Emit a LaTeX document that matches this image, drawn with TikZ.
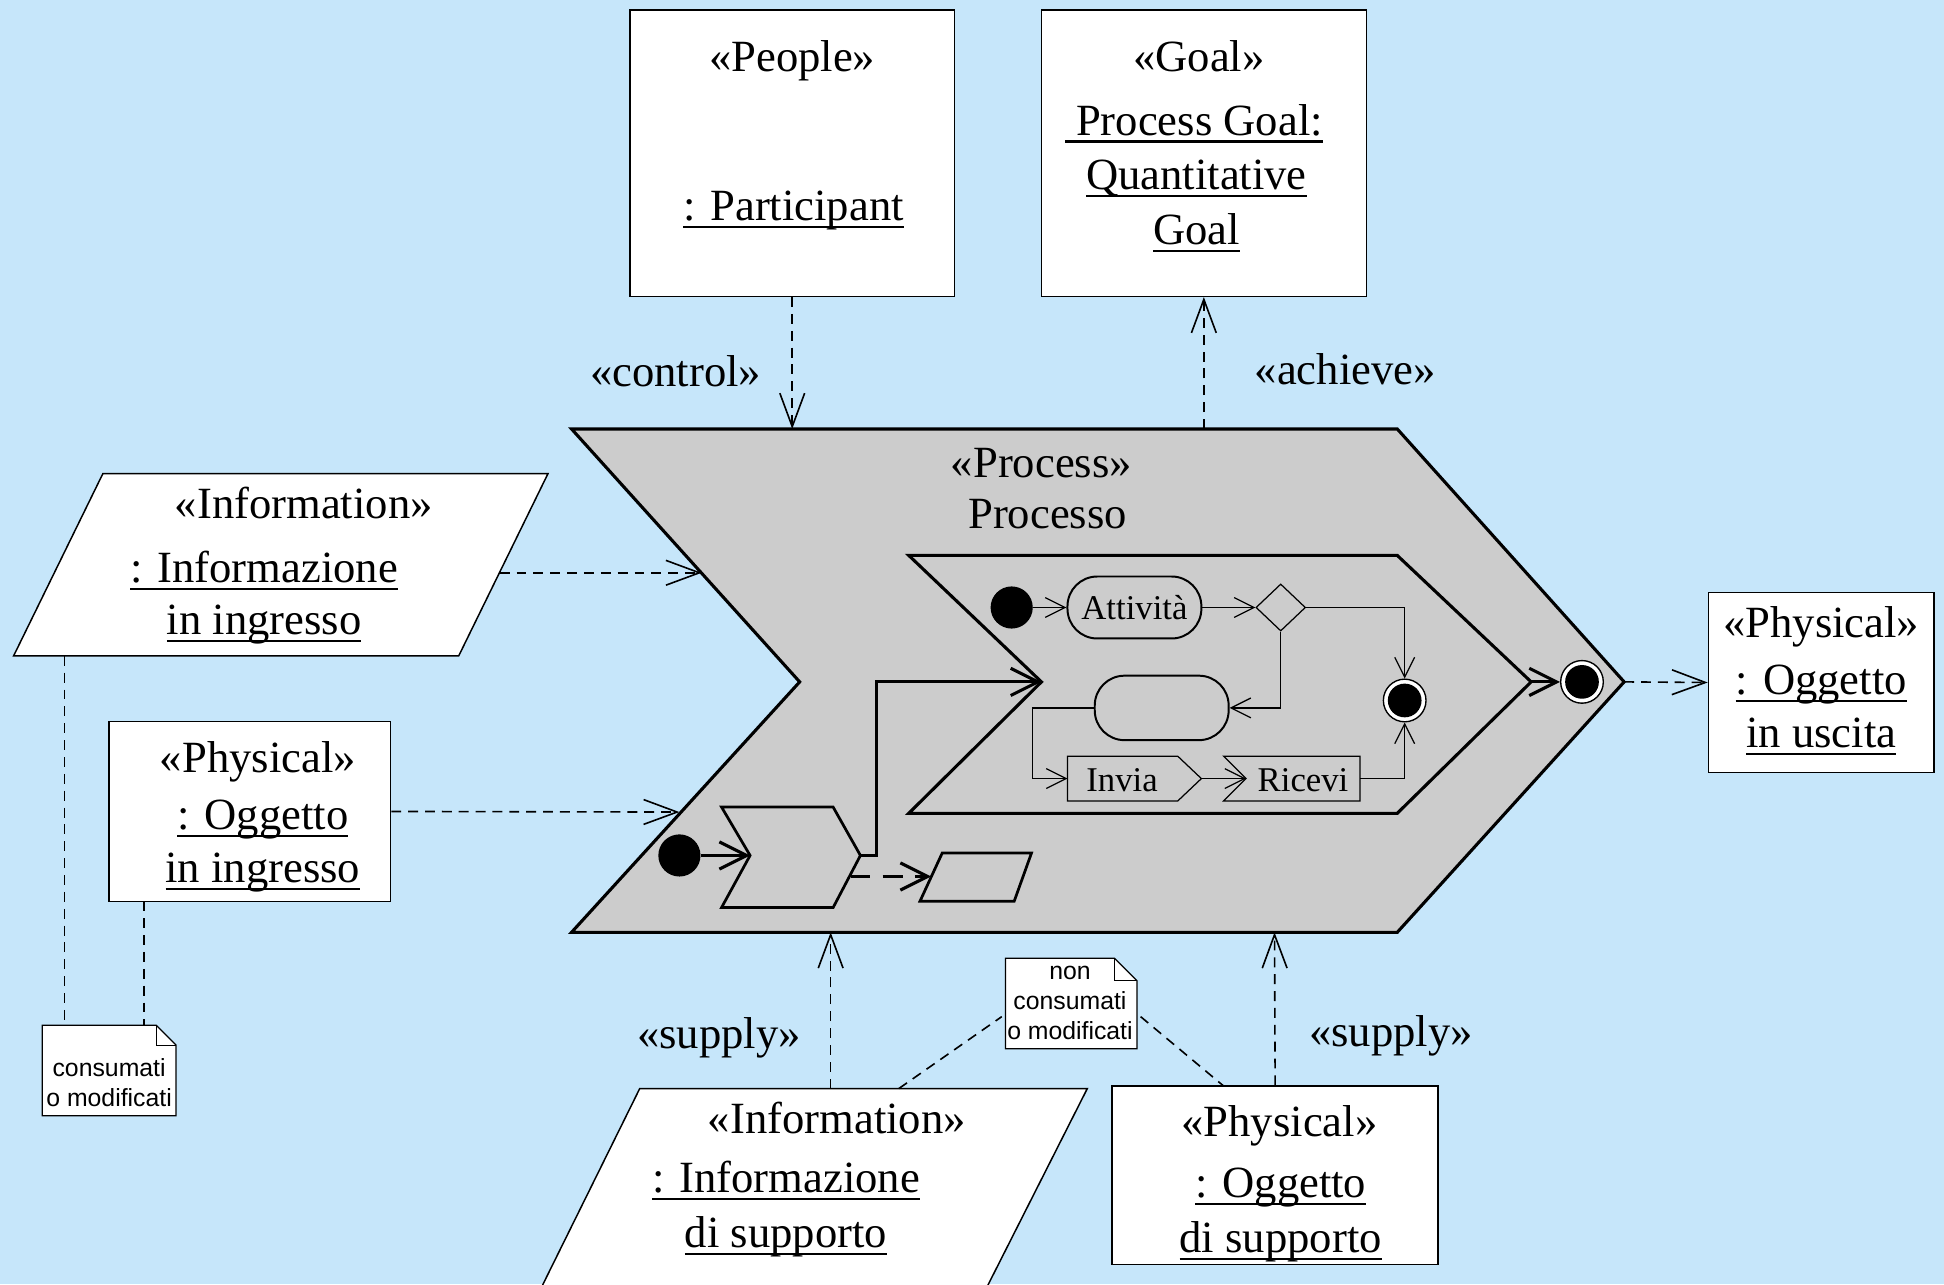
\documentclass[tikz,border=0pt]{standalone}
\usepackage{fontspec}
\setmainfont{Liberation Serif}
\newfontfamily\notefont{Liberation Sans}
\usetikzlibrary{arrows.meta,shapes.geometric}
\definecolor{bgblue}{RGB}{198,230,250}
\definecolor{procgray}{RGB}{204,204,204}
\newcommand\ul[1]{\leavevmode\setbox0=\hbox{#1}\rlap{\rule[-0.17em]{\wd0}{0.05em}}\box0}
\tikzset{
  objbox/.style={draw, fill=white, line width=0.6pt, inner sep=0pt},
  maintxt/.style={font=\fontsize{18}{22}\selectfont, inner sep=0pt, anchor=base},
  innertxt/.style={font=\fontsize{14}{16}\selectfont, inner sep=0pt},
  notetxt/.style={font=\notefont\fontsize{10}{12}\selectfont, align=center, inner sep=0pt},
  dep/.style={dash pattern=on 4pt off 2.8pt, line width=0.65pt, -{Straight Barb[length=13.5pt,width=10pt]}},
  noteline/.style={dash pattern=on 4pt off 2.8pt, line width=0.65pt},
  flow/.style={line width=0.5pt, -{Straight Barb[length=8pt,width=8pt]}},
  thickflow/.style={line width=1.25pt, -{Straight Barb[length=11pt,width=11pt]}},
  initnode/.style={circle, fill=black, minimum size=17pt, inner sep=0pt},
  finalnode/.style={circle, draw, fill=white, line width=0.55pt, minimum size=17.2pt, inner sep=0pt},
  stadium/.style={draw, line width=0.8pt, rounded corners=12pt, inner sep=0pt},
}
\begin{document}
\begin{tikzpicture}[x=0.5pt,y=-0.5pt]
\useasboundingbox (0,0) rectangle (1568,1036);
\clip (0,0) rectangle (1568,1036);
\fill[bgblue] (0,0) rectangle (1568,1036);

% ---------- process chevron ----------
\draw[line width=1.25pt, fill=procgray] (461,346) coordinate (pTL) -- (1127,346) coordinate (pTR)
  -- (1310,550) coordinate (pTip) -- (1127,752) coordinate (pBR) -- (461,752) coordinate (pBL)
  -- (645,550) coordinate (pNotch) -- cycle;
\coordinate (pCtrl) at (639,346);
\coordinate (pAch) at (971,346);
\coordinate (pIn1) at (566,462);
\coordinate (pIn2) at (548,655);
\coordinate (pSup1) at (670,752);
\coordinate (pSup2) at (1028,752);

\node[maintxt] (tProc) at (840,385) {«Process»};
\node[maintxt] (tProc2) at (845,426) {Processo};

% inner chevron
\draw[line width=1.25pt] (733,448) -- (1127,448) -- (1235,550) coordinate (iTip)
  -- (1127,656) -- (733,656) -- (840,550) coordinate (iNotch) -- cycle;

\node[initnode] (init1) at (816,490) {};
\node[stadium, minimum width=54pt, minimum height=25pt, font=\fontsize{14}{16}\selectfont] (att) at (915,490) {Attività};
\node[draw, diamond, line width=0.5pt, minimum width=20pt, minimum height=19pt, inner sep=0pt] (dec) at (1033,490) {};
\node[finalnode] (fin1) at (1133,565) {};
\fill (fin1.center) circle (6.8pt);
\node[stadium, minimum width=54pt, minimum height=26pt] (mid) at (937,571) {};
\draw[line width=0.5pt] (861,610) coordinate (invNW) -- (950,610) -- (969,628) coordinate (invE)
  -- (950,646) -- (861,646) -- cycle;
\coordinate (invW) at (861,628);
\node[innertxt] (tInvia) at (905,629) {Invia};
\draw[line width=0.5pt] (987,610) -- (1097,610) -- (1097,646) -- (987,646) -- (1005,628) coordinate (ricN) -- cycle;
\coordinate (ricE) at (1097,628);
\node[innertxt] (tRicevi) at (1051,629) {Ricevi};
\coordinate (bendL) at (833,600);

\draw[flow] (init1) -- (att);
\draw[flow] (att) -- (dec);
\draw[flow] (dec.east) -| (fin1.north);
\draw[flow] (dec.south) |- (mid.east);
\draw[flow] (mid.west) -| (bendL) |- (invW);
\draw[flow] (invE) -- (ricN);
\draw[flow] (ricE) -| (fin1.south);

% lower-left flow
\node[initnode] (init2) at (548,690) {};
\draw[line width=1.1pt] (582,651) -- (672,651) -- (694,690) coordinate (scTip) -- (672,732)
  -- (582,732) -- (605,690) coordinate (scNotch) -- cycle;
\coordinate (scOut) at (707,690);
\coordinate (scLow) at (686,707);
\draw[line width=1.1pt] (760,688) -- (832,688) -- (818,727) -- (742,727) -- cycle;
\coordinate (parL) at (751,707);
\draw[thickflow] (init2) -- (scNotch);
\draw[thickflow] (scTip) -- (scOut) |- (iNotch);
\draw[thickflow, dash pattern=on 8pt off 5pt] (scLow) -- (parL);

\node[finalnode] (fin2) at (1276,550) {};
\fill (fin2.center) circle (6.8pt);
\draw[thickflow] (iTip) -- (fin2.west);

% ---------- top boxes ----------
\node[objbox, minimum width=131pt, minimum height=115.5pt] (people) at (639,123.5) {};
\node[maintxt] (tPeople) at (639,58) {«People»};
\node[maintxt] (tPart) at (640,178) {\ul{: Participant}};
\node[objbox, minimum width=131pt, minimum height=115.5pt] (goal) at (971,123.5) {};
\node[maintxt] (tGoal) at (967,58) {«Goal»};
\node[maintxt] (tPG) at (963,109) {\ul{\ Process Goal:}};
\node[maintxt] (tQ) at (965,153) {\ul{Quantitative}};
\node[maintxt] (tG) at (965,197) {\ul{Goal}};

\draw[dep] (people.south) -- (pCtrl);
\draw[dep] (pAch) -- (goal.south);
\node[maintxt] (tCtrl) at (545,312) {«control»};
\node[maintxt] (tAch) at (1085,310) {«achieve»};

% ---------- left inputs ----------
\draw[objbox] (83,382) -- (442,382) -- (370,529) -- (11,529) -- cycle;
\coordinate (i1R) at (403,462);
\coordinate (i1B) at (52,529);
\node[maintxt] (tInf1a) at (245,418) {«Information»};
\node[maintxt] (tInf1b) at (213,470) {\ul{: Informazione}};
\node[maintxt] (tInf1c) at (213,512) {\ul{in ingresso}};
\draw[dep] (i1R) -- (pIn1);

\node[objbox, minimum width=113.5pt, minimum height=72.5pt] (physIn) at (201.5,654.5) {};
\node[maintxt] (tPh1a) at (208,623) {«Physical»};
\node[maintxt] (tPh1b) at (212,669) {\ul{: Oggetto}};
\node[maintxt] (tPh1c) at (212,712) {\ul{in ingresso}};
\coordinate (pinB) at (116,727);
\draw[dep] (physIn.east) -- (pIn2);

% note 1
\draw[line width=0.5pt, fill=white] (34,827) coordinate (n1TL) -- (126,827) -- (142,843) -- (142,900) -- (34,900) -- cycle;
\draw[line width=0.5pt] (126,827) -- (126,843) -- (142,843);
\node[notetxt] (note1) at (88,873) {consumati\\o modificati};
\draw[noteline] (i1B) -- (i1B |- n1TL);
\draw[noteline] (pinB) -- (pinB |- n1TL);

% ---------- output ----------
\node[objbox, minimum width=91pt, minimum height=72.5pt] (physOut) at (1469,550.5) {};
\node[maintxt] (tPh2a) at (1469,514) {«Physical»};
\node[maintxt] (tPh2b) at (1469,560) {\ul{: Oggetto}};
\node[maintxt] (tPh2c) at (1469,603) {\ul{in uscita}};
\draw[dep] (pTip) -- (physOut.west);

% ---------- bottom supports ----------
\draw[objbox] (516,878) coordinate (i2TL) -- (877,878) -- (787,1056) -- (428,1056) -- cycle;
\coordinate (i2Top) at (670,878);
\coordinate (i2N) at (725,878);
\node[maintxt] (tInf2a) at (675,914) {«Information»};
\node[maintxt] (tInf2b) at (634,962) {\ul{: Informazione}};
\node[maintxt] (tInf2c) at (634,1006) {\ul{di supporto}};

\node[objbox, minimum width=131.5pt, minimum height=72pt] (physSup) at (1028.5,948) {};
\node[maintxt] (tPh3a) at (1032,917) {«Physical»};
\node[maintxt] (tPh3b) at (1033,966) {\ul{: Oggetto}};
\node[maintxt] (tPh3c) at (1033,1010) {\ul{di supporto}};
\coordinate (psN) at (987,876);

\draw[dep] (i2Top) -- (pSup1);
\draw[dep] (physSup.north) -- (pSup2);
\node[maintxt] (tSup1) at (580,846) {«supply»};
\node[maintxt] (tSup2) at (1122,844) {«supply»};

% note 2
\draw[line width=0.5pt, fill=white] (811,773) -- (899,773) -- (917,791) -- (917,846) -- (811,846) -- cycle;
\draw[line width=0.5pt] (899,773) -- (899,791) -- (917,791);
\coordinate (n2L) at (808,820);
\coordinate (n2R) at (920,820);
\node[notetxt] (note2) at (863,809) {non\\consumati\\o modificati};
\draw[noteline] (i2N) -- (n2L);
\draw[noteline] (n2R) -- (psN);
\end{tikzpicture}
\end{document}
